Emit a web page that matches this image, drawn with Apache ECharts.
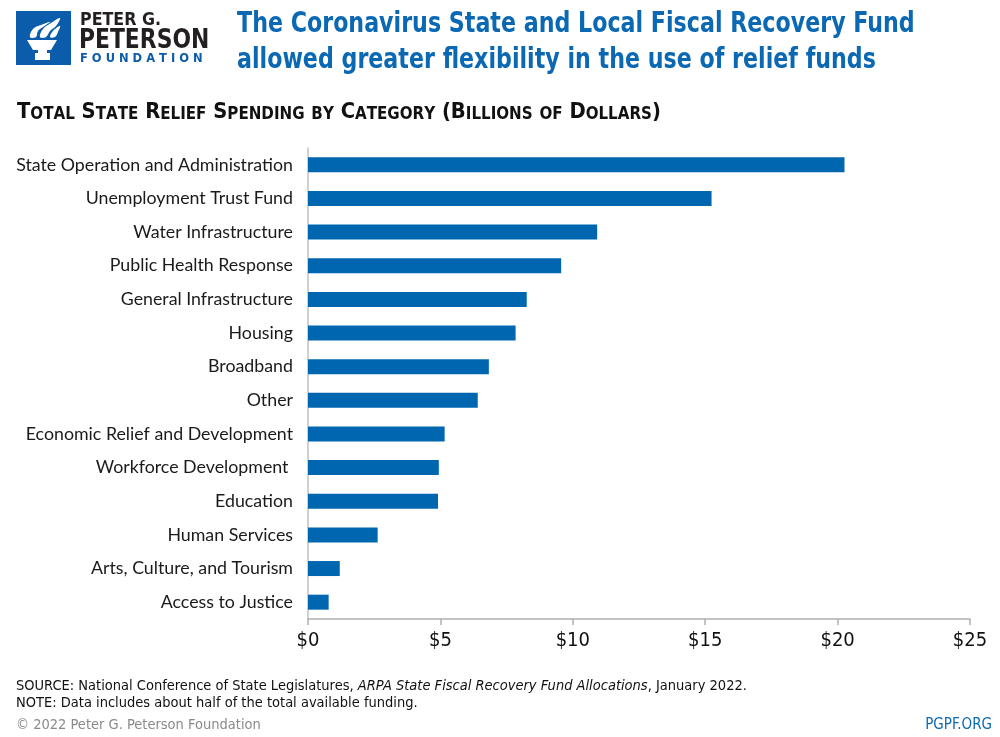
<!DOCTYPE html>
<html><head><meta charset="utf-8">
<script src="https://cdn.jsdelivr.net/npm/echarts@6/dist/echarts.min.js"></script>
<style>html,body{margin:0;padding:0;background:#fff}#c{width:1000px;height:737px}</style>
</head><body><div id="c"></div>
<script>
const categories = ["State Operation and Administration","Unemployment Trust Fund","Water Infrastructure","Public Health Response","General Infrastructure","Housing","Broadband","Other","Economic Relief and Development","Workforce Development ","Education","Human Services","Arts, Culture, and Tourism","Access to Justice"];
const values = [20.26,15.24,10.92,9.56,8.26,7.84,6.83,6.41,5.16,4.94,4.91,2.63,1.2,0.78];
const tickLabels = ["$0","$5","$10","$15","$20","$25"];

const BLUE = '#0066b0';
const COND = '"DejaVu Sans Condensed","Liberation Sans Narrow",sans-serif';

function smallCaps(str){
  let out='';
  for (const ch of str){
    if (ch>='a'&&ch<='z') out += '{s|'+ch.toUpperCase()+'}';
    else out += '{b|'+ch+'}';
  }
  return out;
}

const chart = echarts.init(document.getElementById('c'), null, {renderer:'canvas'});
chart.setOption({
  animation:false,
  backgroundColor:'#fff',
  grid:{left:308,right:30,top:148,bottom:118,containLabel:false},
  xAxis:{type:'value',min:0,max:25,interval:5,
    axisLine:{show:true,lineStyle:{color:'#b0b0b0',width:1.5}},
    axisTick:{show:true,length:6,lineStyle:{color:'#b0b0b0',width:1.5}},
    splitLine:{show:false},
    axisLabel:{margin:12,color:'#111',fontSize:20,fontFamily:COND,
      formatter:(v)=>tickLabels[Math.round(v/5)]}
  },
  yAxis:{type:'category',data:categories,inverse:true,
    axisLine:{show:true,lineStyle:{color:'#c0c0c0',width:1.5}},
    axisTick:{show:false},
    axisLabel:{margin:15,color:'#1a1a1a',fontSize:17.8,fontFamily:'Lato, "Noto Sans", sans-serif'}
  },
  series:[{type:'bar',data:values,barWidth:15,itemStyle:{color:BLUE}}],
  graphic:[
    {type:'rect',shape:{x:16,y:11,width:55,height:54},style:{fill:'#0b5cab'}},
    {type:'polygon',shape:{points:[[27,40],[57,40],[51,50],[33,50]]},style:{fill:'#fff'}},
    {type:'rect',shape:{x:35,y:53,width:15,height:7},style:{fill:'#fff'}},
    {type:'rect',shape:{x:38,y:50,width:9,height:3},style:{fill:'#fff'}},
    {type:'polygon',shape:{smooth:0.4,points:[[30,37],[33,29],[41,25],[50,22],[43,27],[38,31],[36,37]]},style:{fill:'#fff'}},
    {type:'polygon',shape:{smooth:0.4,points:[[40,37],[43,29],[51,23],[60,18],[56,26],[50,31],[46,37]]},style:{fill:'#fff'}},
    {type:'polygon',shape:{smooth:0.4,points:[[50,37],[53,31],[60,26],[58,32],[55,37]]},style:{fill:'#fff'}},
    {type:'text',x:80,y:11,scaleX:0.98,style:{text:'PETER G.',font:'bold 18px '+COND,fill:'#231f20',verticalAlign:'top'}},
    {type:'text',x:79,y:27,scaleX:0.9,style:{text:'PETERSON',font:'bold 27px '+COND,fill:'#231f20',verticalAlign:'top'}},
    {type:'text',x:80,y:53,style:{text:'F O U N D A T I O N',font:'bold 11.5px "DejaVu Sans",sans-serif',fill:'#0b5cab',verticalAlign:'top'}},
    {type:'text',x:237,y:6,scaleX:0.85,style:{text:'The Coronavirus State and Local Fiscal Recovery Fund\nallowed greater flexibility in the use of relief funds',
      font:'bold 29px '+COND,fill:'#0b68b3',lineHeight:36,verticalAlign:'top'}},
    {type:'text',x:17,y:101,scaleX:0.988,style:{text:smallCaps('Total State Relief Spending by Category (Billions of Dollars)'),verticalAlign:'top',
      rich:{b:{fontSize:22,fontWeight:'bold',fontFamily:COND,fill:'#111',verticalAlign:'bottom'},
            s:{fontSize:17,fontWeight:'bold',fontFamily:COND,fill:'#111',verticalAlign:'bottom'}}}},
    {type:'text',left:16,top:679,style:{rich:{n:{fontSize:14.5,fontFamily:COND,fill:'#111'},i:{fontSize:14.5,fontFamily:COND,fontStyle:'italic',fill:'#111'}},
      text:'{n|SOURCE: National Conference of State Legislatures, }{i|ARPA State Fiscal Recovery Fund Allocations}{n|, January 2022.}'}},
    {type:'text',left:16,top:696,style:{text:'NOTE: Data includes about half of the total available funding.',font:'14.5px '+COND,fill:'#111'}},
    {type:'text',left:16,top:718,style:{text:'\u00a9 2022 Peter G. Peterson Foundation',font:'14.5px '+COND,fill:'#8a8a8a'}},
    {type:'text',right:8,top:718,style:{text:'PGPF.ORG',font:'15px '+COND,fill:'#0b68b3'}}
  ]
});
</script></body></html>
